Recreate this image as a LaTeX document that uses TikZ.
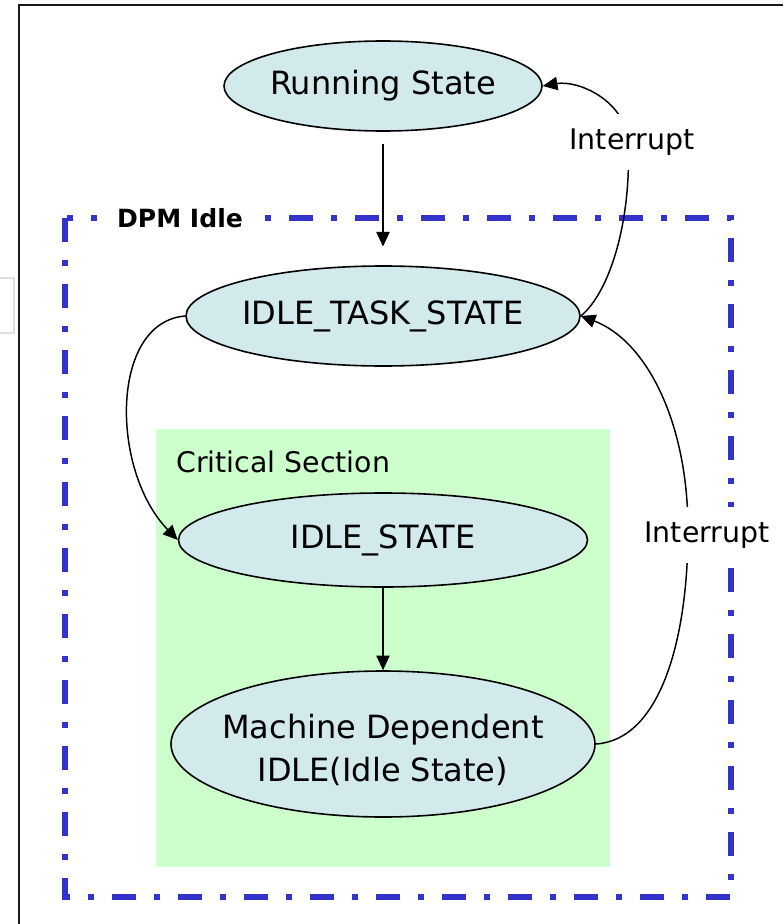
\documentclass[tikz,border=0pt]{standalone}
\usepackage{fontspec}
\setmainfont{DejaVu Sans}
\usetikzlibrary{shapes.geometric, arrows.meta}
\definecolor{statefill}{RGB}{211,234,236}
\definecolor{critfill}{RGB}{204,255,204}
\definecolor{dpmblue}{RGB}{51,51,204}
\begin{document}
\begin{tikzpicture}[x=0.75pt, y=-0.75pt,
  state/.style={ellipse, draw=black, line width=1.2pt, fill=statefill,
    inner xsep=-14pt, inner ysep=0pt,
    font=\fontsize{24}{32.3}\selectfont, align=center},
  edge/.style={line width=1.1pt, -{Triangle[length=11pt, width=10pt]}},
  lbl/.style={fill=white, inner xsep=4pt, inner ysep=11pt, font=\fontsize{21.3}{26}\selectfont},
  frameline/.style={line width=1.6pt, black!90},
  dpmline/.style={dpmblue, line width=4.5pt,
    dash pattern=on 18pt off 13.5pt on 4.5pt off 13.5pt},
]
\useasboundingbox (0,0) rectangle (783,924);

% outer frame and the small box at the left edge
\draw[frameline] (19,924) -- (19,5) -- (783,5);
\draw[line width=1.2pt, gray!25] (-2,278) -- (14,278) -- (14,333) -- (-2,333);

% critical section area
\fill[critfill] (156,429) rectangle (610,867);
\node[font=\fontsize{21.3}{26}\selectfont, anchor=west, inner sep=0pt] (crittxt) at (176,462) {Critical Section};

% DPM idle region
\draw[dpmline] (65,218) rectangle (731,897);
\node[fill=white, font=\bfseries\fontsize{18.8}{22}\selectfont, inner xsep=15pt, inner ysep=4pt] (dpm) at (180,218) {DPM Idle};

% states
\node[state, minimum width=238.5pt, minimum height=67.5pt] (run) at (383,86) {Running State};
\node[state, minimum width=295.5pt, minimum height=75pt] (itask) at (383,316) {IDLE\_TASK\_STATE};
\node[state, minimum width=306.75pt, minimum height=70.5pt] (istate) at (383,540) {IDLE\_STATE};
\node[state, minimum width=318pt, minimum height=109.5pt] (mdep) at (383,744) {};
\node[font=\fontsize{24}{32.3}\selectfont, align=center, inner sep=0pt] (mdeptxt) at (383,750) {Machine Dependent\\IDLE(Idle State)};

% transitions
\draw[edge, shorten <=9pt, shorten >=14pt] (run.south) -- (itask.north);
\draw[edge] (istate.south) -- (mdep.north);
\draw[edge] (itask.west) .. controls (110,322) and (110,470) .. (istate.west);
\draw[edge] (mdep.east) .. controls (660,740) and (688,640) .. (688,530)
  .. controls (688,420) and (645,340) .. (itask.east);
\draw[edge] (itask.east) .. controls (610,292) and (632,220) .. (628,140)
  .. controls (624,100) and (578,80) .. (run.east);

% transition labels
\node[lbl] (int1) at (632,142) {Interrupt};
\node[lbl] (int2) at (707,535) {Interrupt};
\end{tikzpicture}
\end{document}
